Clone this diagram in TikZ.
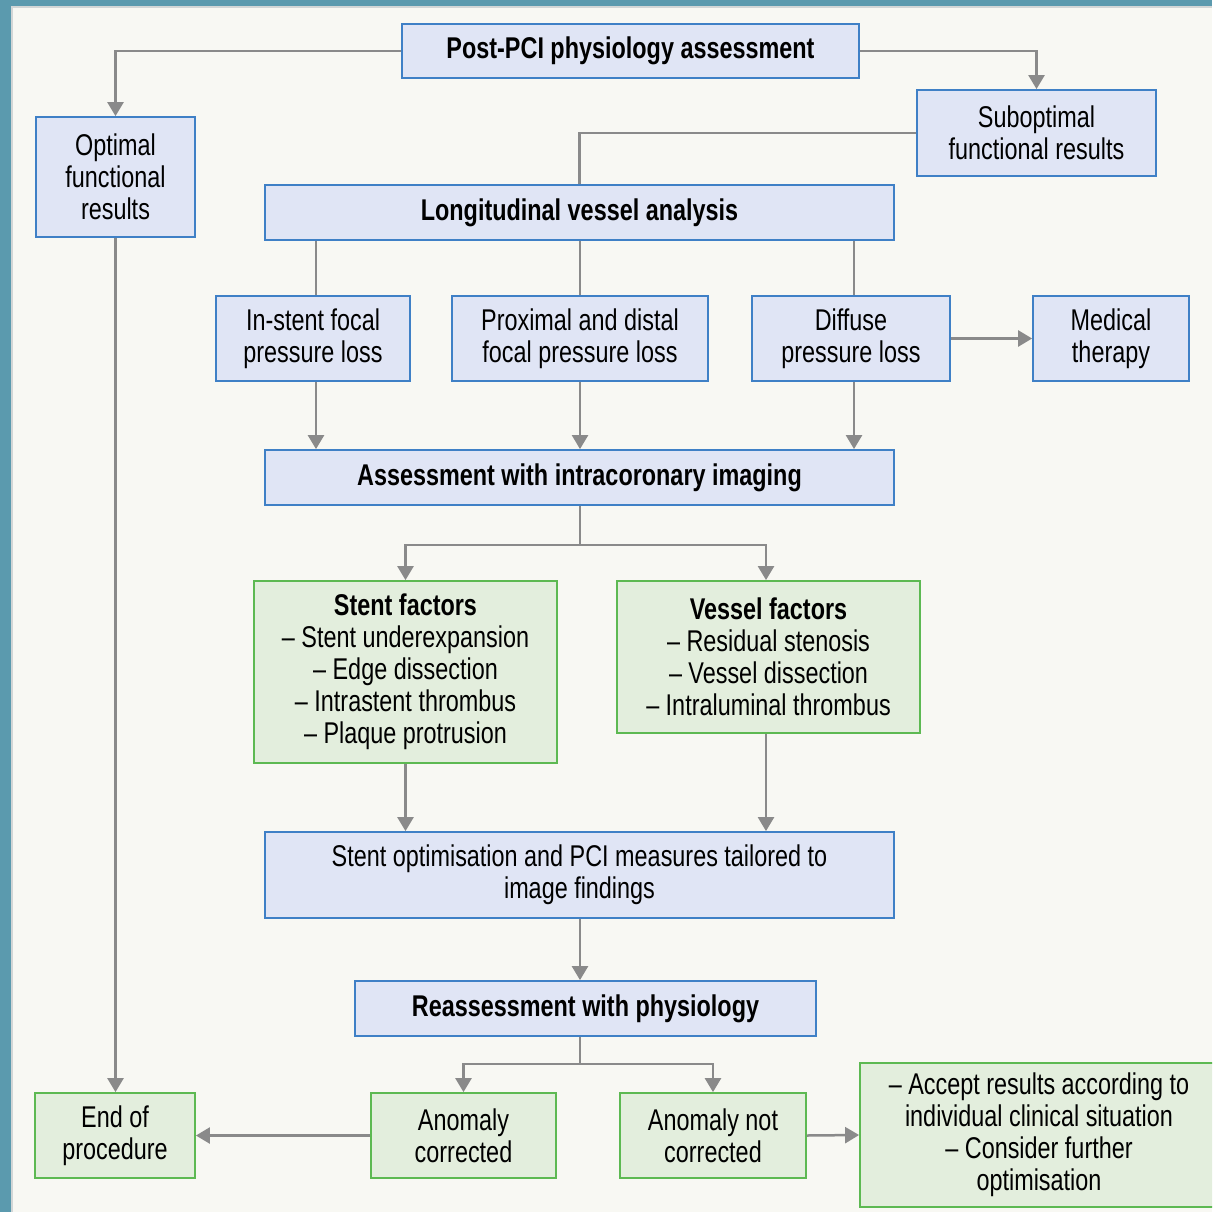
\documentclass[tikz,border=0pt]{standalone}
\usepackage{fontspec}
\setmainfont{Liberation Sans}[FakeStretch=0.78]
\usetikzlibrary{arrows.meta}

\definecolor{frameteal}{HTML}{5B9AAE}
\definecolor{framegap}{HTML}{D2D6D6}
\definecolor{paper}{HTML}{F8F8F3}
\definecolor{blueedge}{HTML}{3F80C6}
\definecolor{bluefill}{HTML}{E0E5F5}
\definecolor{greenedge}{HTML}{5DB952}
\definecolor{greenfill}{HTML}{E3EEDD}
\definecolor{wire}{HTML}{8A8A8A}

\tikzset{
  boxtext/.style={font=\fontsize{30}{32}\selectfont},
  bluebox/.style={draw=blueedge, fill=bluefill, line width=1.8pt, inner sep=0pt,
    align=center, boxtext},
  greenbox/.style={draw=greenedge, fill=greenfill, line width=1.8pt, inner sep=0pt,
    align=center, boxtext},
  titlebox/.style={bluebox, font=\fontsize{30}{32}\selectfont\bfseries},
  wireline/.style={draw=wire, line width=2.5pt},
  wirearrow/.style={wireline, -{Triangle[length=14pt,width=16pt]}},
}

\begin{document}
\begin{tikzpicture}[x=1pt,y=-1pt]
  \useasboundingbox (0,0) rectangle (1212,1212);
  \clip (0,0) rectangle (1212,1212);

  % page frame and background
  \fill[frameteal] (0,0) rectangle (1212,1212);
  \fill[framegap] (11,6) rectangle (1212,1212);
  \fill[paper] (13,8) rectangle (1212,1212);

  % boxes
  \node[titlebox, minimum width=457, minimum height=54] (post) at (630.5,51)
    {Post-PCI physiology assessment};
  \node[bluebox, minimum width=159, minimum height=120] (opt) at (115.5,177)
    {Optimal\\functional\\results};
  \node[bluebox, minimum width=239, minimum height=86] (sub) at (1036.5,133)
    {Suboptimal\\functional results};
  \node[titlebox, minimum width=629, minimum height=55] (long) at (579.5,212.5)
    {Longitudinal vessel analysis};
  \node[bluebox, minimum width=194, minimum height=85] (instent) at (313,338.5)
    {In-stent focal\\pressure loss};
  \node[bluebox, minimum width=256, minimum height=85] (prox) at (580,338.5)
    {Proximal and distal\\focal pressure loss};
  \node[bluebox, minimum width=198, minimum height=85] (diffuse) at (851,338.5)
    {Diffuse\\pressure loss};
  \node[bluebox, minimum width=156, minimum height=85] (medical) at (1111,338.5)
    {Medical\\therapy};
  \node[titlebox, minimum width=629, minimum height=55] (assess) at (579.5,477.5)
    {Assessment with intracoronary imaging};
  \node[greenbox, minimum width=303, minimum height=182] (sf) at (405.5,672)
    {\textbf{Stent factors}\\– Stent underexpansion\\– Edge dissection\\
     – Intrastent thrombus\\– Plaque protrusion};
  \node[greenbox, minimum width=303, minimum height=152] (vf) at (768.5,657)
    {\textbf{Vessel factors}\\– Residual stenosis\\– Vessel dissection\\
     – Intraluminal thrombus};
  \node[bluebox, minimum width=629, minimum height=86] (tailor) at (579.5,875)
    {Stent optimisation and PCI measures tailored to\\image findings};
  \node[titlebox, minimum width=461, minimum height=55] (reass) at (585.5,1008.5)
    {Reassessment with physiology};
  \node[greenbox, minimum width=160, minimum height=85] (endp) at (115,1135.5)
    {End of\\procedure};
  \node[greenbox, minimum width=185, minimum height=85] (anomc) at (463.5,1135.5)
    {Anomaly\\corrected};
  \node[greenbox, minimum width=186, minimum height=85] (anomnc) at (713,1135.5)
    {Anomaly not\\corrected};
  \node[greenbox, minimum width=358, minimum height=144] (accept) at (1039,1135)
    {– Accept results according to\\individual clinical situation\\
     – Consider further\\optimisation};

  % junction points and off-centre drop points
  \coordinate (jf) at (580,545);
  \coordinate (jr) at (580,1064);
  \coordinate (instentx) at ([xshift=3pt]instent.north);
  \coordinate (diffusex) at ([xshift=3pt]diffuse.north);
  \coordinate (vfx) at ([xshift=-2.5pt]vf.north);

  % connectors
  \draw[wirearrow] (post.west) -| (opt.north);
  \draw[wirearrow] (post.east) -| (sub.north);
  \draw[wireline] (sub.west) -| (long.north);
  \draw[wireline] (long.south -| instentx) -- (instentx);
  \draw[wireline] (long.south -| prox.north) -- (prox.north);
  \draw[wireline] (long.south -| diffusex) -- (diffusex);
  \draw[wirearrow] (instent.south -| instentx) -- (assess.north -| instentx);
  \draw[wirearrow] (prox.south) -- (prox.south |- assess.north);
  \draw[wirearrow] (diffuse.south -| diffusex) -- (assess.north -| diffusex);
  \draw[wirearrow] (diffuse.east) -- (medical.west);
  \draw[wireline] (assess.south -| jf) -- (jf);
  \draw[wirearrow] (jf) -| (sf.north);
  \draw[wirearrow] (jf) -| (vfx);
  \draw[wirearrow] (sf.south) -- (sf.south |- tailor.north);
  \draw[wirearrow] (vf.south -| vfx) -- (tailor.north -| vfx);
  \draw[wirearrow] (tailor.south -| jf) -- (reass.north -| jf);
  \draw[wireline] (reass.south -| jr) -- (jr);
  \draw[wirearrow] (jr) -| (anomc.north);
  \draw[wirearrow] (jr) -| (anomnc.north);
  \draw[wirearrow] (opt.south) -- (opt.south |- endp.north);
  \draw[wirearrow] (anomc.west) -- (endp.east);
  \draw[wirearrow] (anomnc.east) -- (accept.west);
\end{tikzpicture}
\end{document}
